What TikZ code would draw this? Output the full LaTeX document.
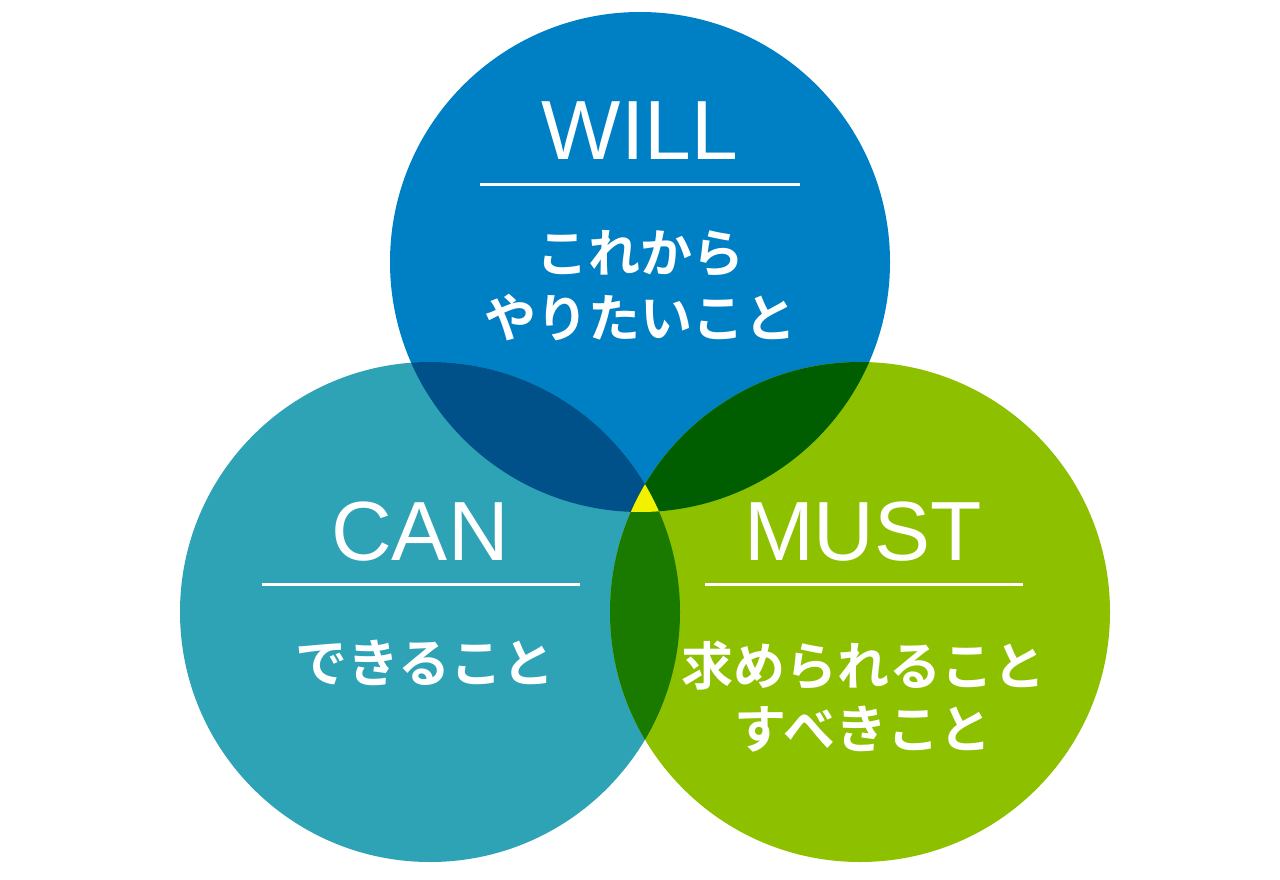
\documentclass[tikz,border=0pt]{standalone}
\usepackage{fontspec}
\setmainfont{Liberation Sans}
\newfontfamily\jp{Noto Sans CJK JP Bold}
\definecolor{cwill}{RGB}{0,128,196}
\definecolor{ccan}{RGB}{46,163,181}
\definecolor{cmust}{RGB}{141,193,0}
\definecolor{cwc}{RGB}{0,80,137}
\definecolor{cwm}{RGB}{0,94,0}
\definecolor{ccm}{RGB}{26,122,0}
\definecolor{cmid}{RGB}{242,242,0}
\tikzset{lat/.style={text=white,font=\fontsize{84}{84}\selectfont,anchor=base},
jpt/.style={text=white,font=\jp\fontsize{52}{60}\selectfont,anchor=base},
rule/.style={white,line width=3pt}}
\begin{document}
\begin{tikzpicture}[x=1pt,y=-1pt]
\useasboundingbox (0,0) rectangle (1280,880);
\fill[cwill] (640,262) circle (250);
\fill[ccan] (430,612) circle (250);
\fill[cmust] (860,612) circle (250);
\begin{scope}\clip (640,262) circle (250); \fill[cwc] (430,612) circle (250); \fill[cwm] (860,612) circle (250);\end{scope}
\begin{scope}\clip (430,612) circle (250); \fill[ccm] (860,612) circle (250);
\clip (640,262) circle (250); \fill[cmid] (860,612) circle (250);\end{scope}
\node[lat] (will) at (640,160) {WILL};
\draw[rule] (480,184) -- (800,184);
\node[jpt] (w1) at (640,272) {これから};
\node[jpt] (w2) at (640,337) {やりたいこと};
\node[lat] (can) at (420,560) {CAN};
\draw[rule] (262,584) -- (580,584);
\node[jpt] (c1) at (425,682) {できること};
\node[lat] (must) at (863,560) {MUST};
\draw[rule] (705,584) -- (1023,584);
\node[jpt] (m1) at (863,685) {求められること};
\node[jpt] (m2) at (863,748) {すべきこと};
\end{tikzpicture}
\end{document}
